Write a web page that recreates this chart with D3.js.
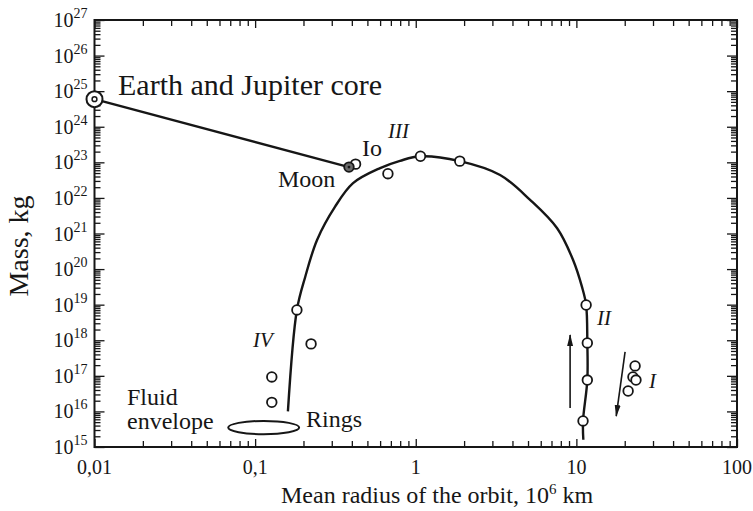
<!DOCTYPE html>
<html>
<head>
<meta charset="utf-8">
<script src="https://cdn.jsdelivr.net/npm/d3@7/dist/d3.min.js"></script>
<style>
  body { margin: 0; background: #fff; }
  text { font-family: "Liberation Serif", "Times New Roman", serif; fill: #161616; }
</style>
</head>
<body>
<div id="vis"></div>
<script>
// Orbit radius in 10^6 km, mass in kg
var earthCore = [0.01, 5.97e24];
var moon = [0.384, 7.35e22];
var io = [0.422, 8.9e22];
var europa = [0.671, 4.8e22];

// the main curve through the regular satellites and group II
var mainCurve = [
	[0.160, 1.0e16], [0.182, 7.1e18], [0.205, 6.0e19], [0.243, 6.6e20],
	[0.314, 5.6e21], [0.407, 2.6e22], [0.600, 6.9e22], [0.798, 1.1e23],
	[1.07, 1.48e23], [1.88, 1.08e23], [3.35, 4.4e22], [5.15, 8.8e21],
	[7.59, 1.4e21], [9.54, 1.8e20], [10.85, 3.1e19], [11.5, 9.8e18],
	[11.7, 8.4e17], [11.7, 7.6e16], [11.0, 5.4e15], [11.05, 1.6e15]
];
// open circles that sit on the curve
var curveSats = [[0.182, 7.1e18], [1.07, 1.48e23], [1.88, 1.08e23],
	[11.5, 9.8e18], [11.7, 8.4e17], [11.7, 7.6e16], [11.0, 5.4e15]];
var groupIV = [[0.127, 9.3e16], [0.127, 1.8e16], [0.223, 7.9e17]];
var groupI = [[23.2, 1.9e17], [22.5, 9.3e16], [23.5, 7.6e16], [21.0, 3.75e16]];

var arrowUp = [[9.14, 1.25e16], [9.14, 1.4e18]];
var arrowDown = [[20.1, 4.7e17], [17.7, 7.4e15]];
var ringsX = [0.068, 0.188];
var ringsY = [2.3e15, 5.4e15];

var xTicks = [0.01, 0.1, 1, 10, 100];
var xTickLabels = ["0,01", "0,1", "1", "10", "100"];
var yExponents = [15, 16, 17, 18, 19, 20, 21, 22, 23, 24, 25, 26, 27];

var width = 753, height = 511;
var margin = {top: 20, right: 16, bottom: 64, left: 94.5};

var svg = d3.select("#vis").append("svg")
	.attr("width", width)
	.attr("height", height);

var x = d3.scaleLog().domain([0.01, 100]).range([margin.left, width - margin.right]);
var y = d3.scaleLog().domain([1e15, 1e27]).range([height - margin.bottom, margin.top]);

// minor ticks 2..9 in each decade
var xMinor = [], yMinor = [];
xTicks.slice(0, -1).forEach(function(t) {
	for (var m = 2; m <= 9; m++) xMinor.push(t * m);
});
yExponents.slice(0, -1).forEach(function(e) {
	for (var m = 2; m <= 9; m++) yMinor.push(m * Math.pow(10, e));
});
var yMajor = yExponents.map(function(e) { return Math.pow(10, e); });

var x0 = x.range()[0], x1 = x.range()[1], y0 = y.range()[0], y1 = y.range()[1];

function tickAxis(axis, pos) {
	var g = svg.append("g").attr("transform", pos).call(axis);
	g.select(".domain").remove();
	g.selectAll("line").attr("stroke", "#161616").attr("stroke-width", 1.3);
	g.selectAll("text").remove();
	return g;
}

// ticks point into the plot on all four sides
tickAxis(d3.axisBottom(x).tickValues(xMinor).tickSize(-6), "translate(0," + y0 + ")");
tickAxis(d3.axisBottom(x).tickValues(xTicks).tickSize(-8), "translate(0," + y0 + ")");
tickAxis(d3.axisTop(x).tickValues(xMinor).tickSize(-6), "translate(0," + y1 + ")");
tickAxis(d3.axisTop(x).tickValues(xTicks).tickSize(-8), "translate(0," + y1 + ")");
tickAxis(d3.axisLeft(y).tickValues(yMinor).tickSize(-6), "translate(" + x0 + ",0)");
tickAxis(d3.axisLeft(y).tickValues(yMajor).tickSize(-10), "translate(" + x0 + ",0)");
tickAxis(d3.axisRight(y).tickValues(yMinor).tickSize(-6), "translate(" + x1 + ",0)");
tickAxis(d3.axisRight(y).tickValues(yMajor).tickSize(-10), "translate(" + x1 + ",0)");

// frame
svg.append("rect")
	.attr("x", x0).attr("y", y1)
	.attr("width", x1 - x0).attr("height", y0 - y1)
	.attr("fill", "none").attr("stroke", "#161616").attr("stroke-width", 2);

// tick labels
svg.selectAll(".xlab").data(xTicks).enter().append("text")
	.attr("x", function(d) { return x(d); })
	.attr("y", y0 + 27)
	.attr("text-anchor", "middle")
	.style("font-size", "20px")
	.text(function(d, i) { return xTickLabels[i]; });

var yl = svg.selectAll(".ylab").data(yExponents).enter().append("text")
	.attr("x", x0 - 7)
	.attr("y", function(d) { return y(Math.pow(10, d)) + 7; })
	.attr("text-anchor", "end")
	.style("font-size", "20px");
yl.append("tspan").text("10");
yl.append("tspan").attr("dy", -9).style("font-size", "14px").text(function(d) { return d; });

// axis titles
var xt = svg.append("text")
	.attr("x", 281).attr("y", 503)
	.style("font-size", "24px");
xt.append("tspan").text("Mean radius of the orbit, 10");
xt.append("tspan").attr("dy", -9).style("font-size", "15px").text("6");
xt.append("tspan").attr("dy", 9).text(" km");

svg.append("text")
	.attr("transform", "translate(28,246) rotate(-90)")
	.attr("text-anchor", "middle")
	.style("font-size", "28px")
	.text("Mass, kg");

// arrow head
svg.append("defs").append("marker")
	.attr("id", "head")
	.attr("viewBox", "0 0 12 8")
	.attr("refX", 11).attr("refY", 4)
	.attr("markerWidth", 12).attr("markerHeight", 8)
	.attr("markerUnits", "userSpaceOnUse")
	.attr("orient", "auto")
	.append("path").attr("d", "M0,1 L12,4 L0,7 Z").attr("fill", "#161616");

var line = d3.line()
	.x(function(d) { return x(d[0]); })
	.y(function(d) { return y(d[1]); });

// Earth -> Moon line
svg.append("path")
	.attr("d", line([earthCore, moon]))
	.attr("fill", "none").attr("stroke", "#161616").attr("stroke-width", 2.4);

// main curve
svg.append("path")
	.attr("d", line.curve(d3.curveCatmullRom.alpha(0.5))(mainCurve))
	.attr("fill", "none").attr("stroke", "#161616").attr("stroke-width", 2.4);
line.curve(d3.curveLinear);

[arrowUp, arrowDown].forEach(function(a) {
	svg.append("path")
		.attr("d", line(a))
		.attr("stroke", "#161616").attr("stroke-width", 1.6)
		.attr("marker-end", "url(#head)");
});

// rings ellipse
svg.append("ellipse")
	.attr("cx", (x(ringsX[0]) + x(ringsX[1])) / 2)
	.attr("cy", (y(ringsY[0]) + y(ringsY[1])) / 2)
	.attr("rx", (x(ringsX[1]) - x(ringsX[0])) / 2)
	.attr("ry", (y(ringsY[0]) - y(ringsY[1])) / 2)
	.attr("fill", "none").attr("stroke", "#161616").attr("stroke-width", 2);

// open circles
var openSats = curveSats.concat(groupIV, groupI, [io, europa]);
svg.selectAll(".sat").data(openSats).enter().append("circle")
	.attr("cx", function(d) { return x(d[0]); })
	.attr("cy", function(d) { return y(d[1]); })
	.attr("r", 4.8)
	.attr("fill", "#fff").attr("stroke", "#161616").attr("stroke-width", 1.8);

// Moon: dark filled
svg.append("circle")
	.attr("cx", x(moon[0])).attr("cy", y(moon[1])).attr("r", 4.8)
	.attr("fill", "#6a6a6a").attr("stroke", "#161616").attr("stroke-width", 1.8);
svg.append("circle")
	.attr("cx", x(moon[0])).attr("cy", y(moon[1])).attr("r", 1.4)
	.attr("fill", "#161616");

// Earth and Jupiter core: circled dot
svg.append("circle")
	.attr("cx", x(earthCore[0])).attr("cy", y(earthCore[1])).attr("r", 8)
	.attr("fill", "#fff").attr("stroke", "#161616").attr("stroke-width", 2);
svg.append("circle")
	.attr("cx", x(earthCore[0])).attr("cy", y(earthCore[1])).attr("r", 2.4)
	.attr("fill", "none").attr("stroke", "#161616").attr("stroke-width", 1.5);

// annotations
var notes = [
	{t: "Earth and Jupiter core", x: 118, y: 95, s: 30},
	{t: "Io", x: 362, y: 156, s: 24},
	{t: "Moon", x: 278, y: 187, s: 24},
	{t: "Fluid", x: 127, y: 405, s: 24},
	{t: "envelope", x: 127, y: 429, s: 24},
	{t: "Rings", x: 306, y: 427, s: 24},
	{t: "III", x: 388, y: 138, s: 21, i: true},
	{t: "IV", x: 253, y: 347, s: 21, i: true},
	{t: "II", x: 597, y: 325, s: 21, i: true},
	{t: "I", x: 649, y: 388, s: 21, i: true}
];
svg.selectAll(".note").data(notes).enter().append("text")
	.attr("x", function(d) { return d.x; })
	.attr("y", function(d) { return d.y; })
	.style("font-size", function(d) { return d.s + "px"; })
	.style("font-style", function(d) { return d.i ? "italic" : "normal"; })
	.text(function(d) { return d.t; });
</script>
</body>
</html>
